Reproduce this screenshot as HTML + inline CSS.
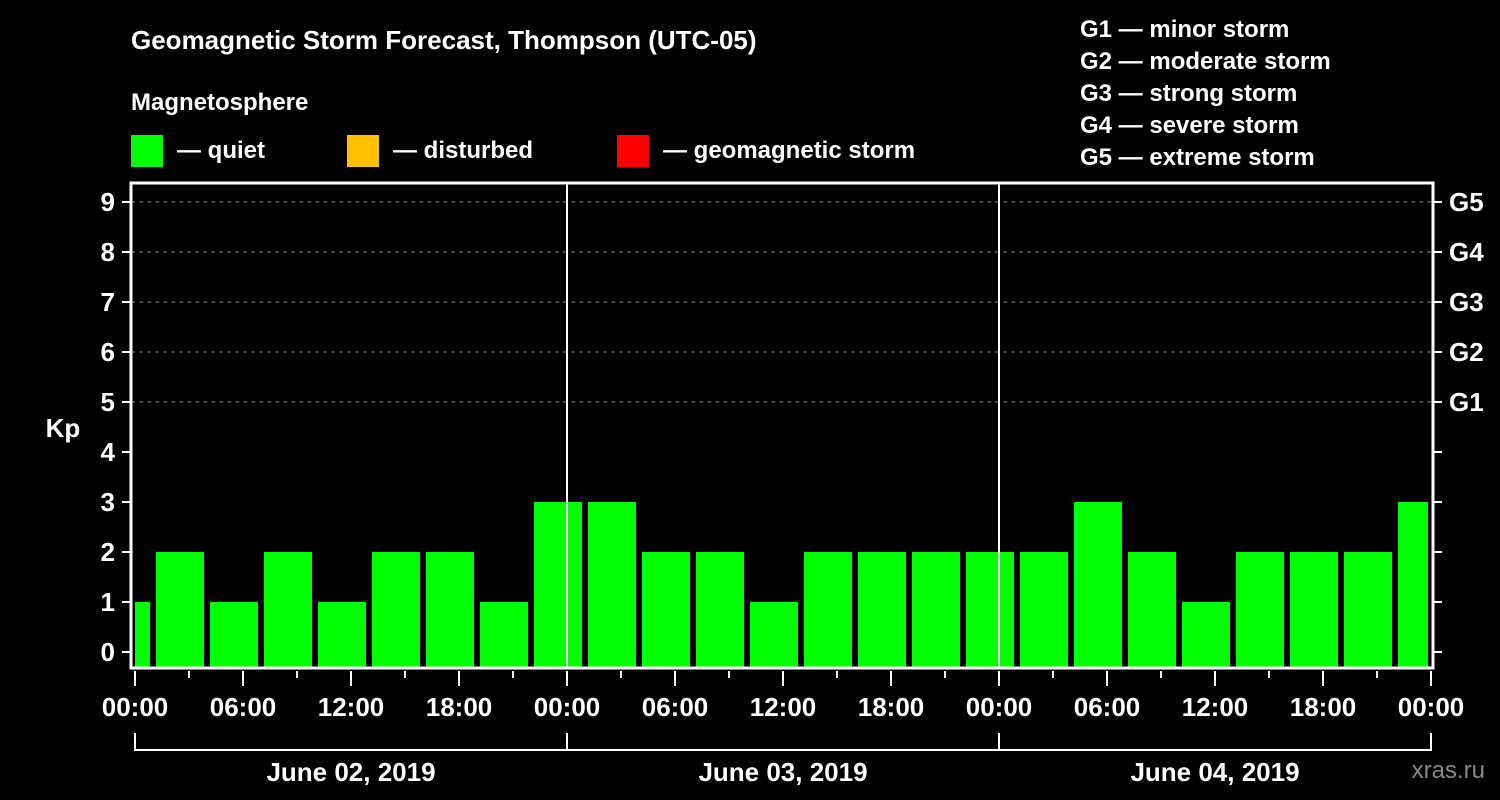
<!DOCTYPE html>
<html><head><meta charset="utf-8"><style>
html,body{margin:0;padding:0;background:#000;}
svg{display:block;font-family:"Liberation Sans",sans-serif;font-weight:bold;}
</style></head><body>
<svg id="chart" width="1500" height="800" viewBox="0 0 1500 800">
<rect width="1500" height="800" fill="#000"/>
<text x="131" y="49" font-size="26" fill="#fff">Geomagnetic Storm Forecast, Thompson (UTC-05)</text>
<text x="131" y="110" font-size="24" fill="#fff">Magnetosphere</text>
<g><rect x="131" y="135" width="32" height="32" fill="#00ff00"/><text x="177" y="158" font-size="24" fill="#fff">— quiet</text></g>
<g><rect x="347" y="135" width="32" height="32" fill="#ffc000"/><text x="393" y="158" font-size="24" fill="#fff">— disturbed</text></g>
<g><rect x="617" y="135" width="32" height="32" fill="#ff0000"/><text x="663" y="158" font-size="24" fill="#fff">— geomagnetic storm</text></g>
<g font-size="24" fill="#fff">
<text x="1080" y="37">G1 — minor storm</text>
<text x="1080" y="69">G2 — moderate storm</text>
<text x="1080" y="101">G3 — strong storm</text>
<text x="1080" y="133">G4 — severe storm</text>
<text x="1080" y="165">G5 — extreme storm</text>
</g>
<text x="63" y="437" font-size="26" fill="#fff" text-anchor="middle">Kp</text>
<text x="1485" y="778" font-size="24" fill="#888" text-anchor="end" font-weight="normal">xras.ru</text>
<g id="grid"></g><g id="bars"></g><g id="axes"></g>
</svg>
<script>
const kpValues=[1,2,1,2,1,2,2,1,3,3,2,2,1,2,2,2,2,2,3,2,1,2,2,2,3];
const yTicks=[0,1,2,3,4,5,6,7,8,9];
const gLabels=["G1","G2","G3","G4","G5"];
const gLevels=[5,6,7,8,9];
const xLabels=["00:00","06:00","12:00","18:00","00:00","06:00","12:00","18:00","00:00","06:00","12:00","18:00","00:00"];
const dayLabels=["June 02, 2019","June 03, 2019","June 04, 2019"];
const NS="http://www.w3.org/2000/svg";
const L=131,R=1433,T=183,B=668,X0=135,DAY=432;
const y=v=>652-v*50;
const xh=h=>X0+h*DAY/24;
function mk(p,t,a){const e=document.createElementNS(NS,t);for(const k in a)e.setAttribute(k,a[k]);p.appendChild(e);return e;}
const grid=document.getElementById('grid'),bars=document.getElementById('bars'),axes=document.getElementById('axes');
gLevels.forEach(v=>{const l=mk(grid,'line',{x1:L,x2:R,y1:y(v),y2:y(v),stroke:'#888','stroke-dasharray':'4,4','stroke-width':1});

});
kpValues.forEach((v,i)=>{const c=xh(1.5+3*(i-1))+9*0+0;const cx=X0+45+54*(i-1);
let x1=Math.max(cx-24,L+4),x2=Math.min(cx+24,R-5);
const col=v>=5?'#ff0000':(v>=4?'#ffc000':'#00ff00');
const r=mk(bars,'rect',{x:x1,y:y(v),width:x2-x1,height:B-1-y(v),fill:col});

});
[1,2].forEach(d=>{const l=mk(axes,'line',{x1:X0+d*DAY,x2:X0+d*DAY,y1:T,y2:B,stroke:'#fff','stroke-width':2});

});
mk(axes,'rect',{x:L,y:T,width:R-L,height:B-T,fill:'none',stroke:'#fff','stroke-width':3});
yTicks.forEach(v=>{mk(axes,'line',{x1:122,x2:L,y1:y(v),y2:y(v),stroke:'#fff','stroke-width':2});
mk(axes,'line',{x1:R,x2:1442,y1:y(v),y2:y(v),stroke:'#fff','stroke-width':2});
const t=mk(axes,'text',{x:115,y:y(v)+9,'font-size':26,fill:'#fff','text-anchor':'end'});t.textContent=v;

});
gLevels.forEach((v,i)=>{const t=mk(axes,'text',{x:1449,y:y(v)+9,'font-size':26,fill:'#fff'});t.textContent=gLabels[i];

});
for(let h=0;h<=72;h+=3){const maj=h%6===0;mk(axes,'line',{x1:xh(h),x2:xh(h),y1:B+3,y2:maj?686:678,stroke:'#fff','stroke-width':2});}
xLabels.forEach((s,i)=>{const t=mk(axes,'text',{x:xh(i*6),y:716,'font-size':26,fill:'#fff','text-anchor':'middle'});t.textContent=s;

});
mk(axes,'path',{d:`M${X0} 733V750H${X0+3*DAY}V733`,fill:'none',stroke:'#fff','stroke-width':2});
for(let d=1;d<3;d++)mk(axes,'line',{x1:X0+d*DAY,x2:X0+d*DAY,y1:733,y2:750,stroke:'#fff','stroke-width':2});
dayLabels.forEach((s,i)=>{const t=mk(axes,'text',{x:X0+DAY*(i+0.5),y:781,'font-size':26,fill:'#fff','text-anchor':'middle'});t.textContent=s;

});
</script>
</body></html>
